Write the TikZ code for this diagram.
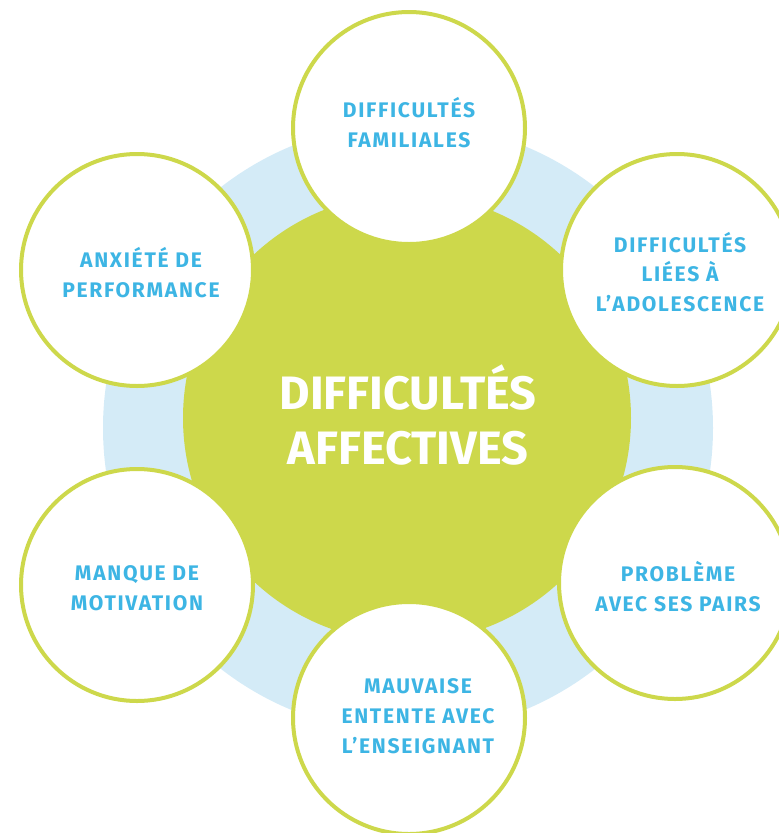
\documentclass[tikz,border=0pt]{standalone}
\usepackage{fontspec}
\setmainfont{Fira Sans}
\newfontfamily\bubblefont{Fira Sans}[LetterSpace=8]
\usepackage{tikz}

\definecolor{leafgreen}{RGB}{205,216,75}
\definecolor{paleblue}{RGB}{212,235,247}
\definecolor{inkblue}{RGB}{61,181,228}

\begin{document}
\begin{tikzpicture}[x=0.03cm, y=-0.03cm,
  bubble/.style={draw=leafgreen, fill=white, line width=0.12cm},
  bubbletext/.style={align=center, text=inkblue, font=\bubblefont\bfseries\fontsize{18}{25.5}\selectfont},
  hubtext/.style={align=center, text=white, font=\bfseries\fontsize{40}{47}\selectfont}]
\useasboundingbox (0,0) rectangle (779,833);

%%%%%%%%%%%%%%%%%%%%%%%%%%%%
\fill[paleblue] (408,428) circle (305);
\fill[leafgreen] (407,418) circle (224);
\node[hubtext] (hub) at (408,415) {DIFFICULTÉS\\AFFECTIVES};
%%%%%%%%%%%%%%%%%%%%%%%%%%%%
\draw[bubble] (409,128) circle (116);
\node[bubbletext] (familiales) at (409,123) {DIFFICULTÉS\\FAMILIALES};

\draw[bubble] (677,270) circle (116);
\node[bubbletext] (adolescence) at (680,272) {DIFFICULTÉS\\LIÉES À\\L’ADOLESCENCE};

\draw[bubble] (137,270) circle (116);
\node[bubbletext] (anxiete) at (141,273) {ANXIÉTÉ DE\\PERFORMANCE};

\draw[bubble] (137,585) circle (116);
\node[bubbletext] (motivation) at (137,588) {MANQUE DE\\MOTIVATION};

\draw[bubble] (675,583) circle (116);
\node[bubbletext] (pairs) at (678,587) {PROBLÈME\\AVEC SES PAIRS};

\draw[bubble] (409,718) circle (116);
\node[bubbletext] (enseignant) at (418,716) {MAUVAISE\\ENTENTE AVEC\\L’ENSEIGNANT};
%%%%%%%%%%%%%%%%%%%%%%%%%%%%
\end{tikzpicture}
\end{document}
